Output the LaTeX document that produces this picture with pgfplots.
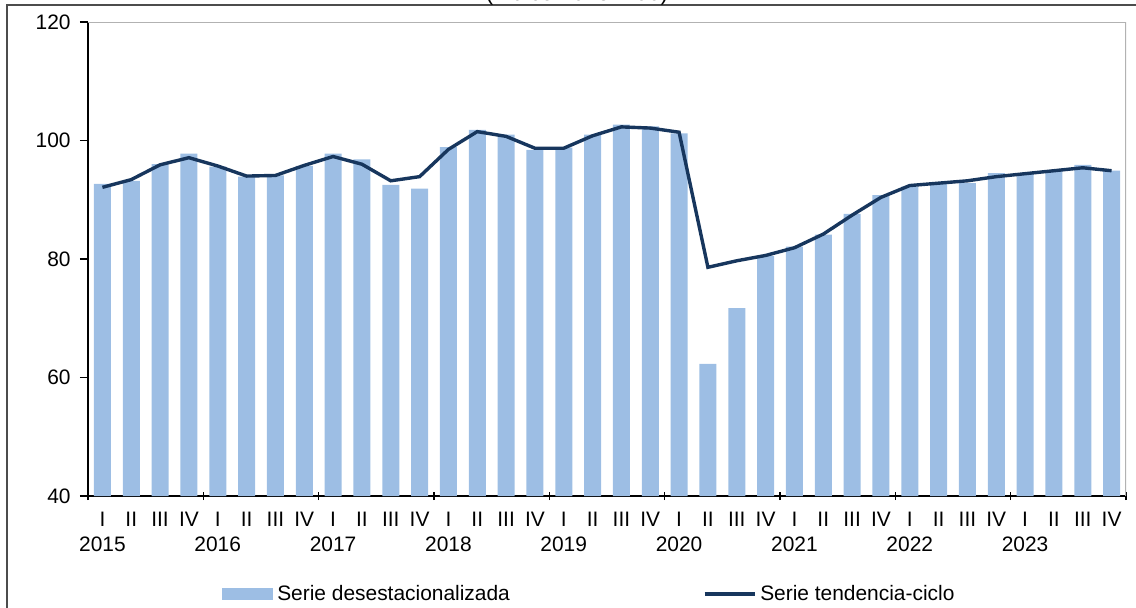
\documentclass[border=0pt]{standalone}
\usepackage{pgfplots}
\pgfplotsset{compat=1.18}
\usepackage{fontspec}
\setmainfont{Liberation Sans}

\definecolor{barblue}{RGB}{157,190,228}
\definecolor{navy}{RGB}{23,54,93}

\begin{document}
\fontsize{10.5}{12}\selectfont
\begin{tikzpicture}
  % outer frame of the chart (its right and bottom sides fall outside the page)
  \draw[black!70, line width=0.6pt] (-40.5bp,-58bp) rectangle (530bp,245.5bp);
  \node[anchor=base, inner sep=0pt, font=\fontsize{11.3}{13}\selectfont]
    at (244.5bp,247.5bp) {(Índice 2018=100)};
  \begin{axis}[
    at={(0,0)}, anchor=south west,
    scale only axis,
    width=519bp, height=237bp,
    xmin=-0.5, xmax=35.5,
    ymin=40, ymax=120,
    axis x line=bottom, axis y line=left,
    axis line style={-, black, line width=0.6pt},
    ytick={40,60,...,120},
    ytick style={black, line width=0.6pt},
    y tick label style={font=\fontsize{10.5}{12}\selectfont, xshift=-1pt},
    /pgf/number format/assume math mode=true,
    tick align=outside,
    major tick length=4bp,
    xtick={-0.5,3.5,...,35.5},
    xticklabels={},
    xtick style={black, line width=0.6pt},
    x tick style={/pgfplots/tick align=center},
    extra x ticks={0,...,35},
    extra x tick style={major tick length=0pt},
    extra x tick labels={{I\\2015},II,III,IV,{I\\2016},II,III,IV,{I\\2017},II,III,IV,
      {I\\2018},II,III,IV,{I\\2019},II,III,IV,{I\\2020},II,III,IV,{I\\2021},II,III,IV,
      {I\\2022},II,III,IV,{I\\2023},II,III,IV},
    x tick label style={align=center, font=\fontsize{10.5}{12.5}\selectfont, yshift=-4.5bp},
    legend style={draw=none, fill=none, at={(0.129,-0.207)}, anchor=west,
      legend columns=2, inner sep=0pt,
      font=\fontsize{10.5}{12}\selectfont,
      /tikz/every even column/.append style={column sep=94.5bp}},
    legend cell align=left,
  ]
    \addplot[ybar, bar width=8.5bp, fill=barblue, draw=none,
      legend image code/.code={\fill[barblue] (0bp,-3bp) rectangle (25.5bp,3bp);}]
      coordinates {
      (0,92.7) (1,93.2) (2,96.0) (3,97.8)
      (4,95.6) (5,93.9) (6,94.1) (7,95.7)
      (8,97.8) (9,96.8) (10,92.5) (11,91.9)
      (12,98.9) (13,101.8) (14,101.0) (15,98.4)
      (16,98.8) (17,101.0) (18,102.7) (19,102.4)
      (20,101.2) (21,62.3) (22,71.7) (23,80.5)
      (24,82.1) (25,84.1) (26,87.6) (27,90.8)
      (28,92.2) (29,92.9) (30,92.8) (31,94.5)
      (32,94.4) (33,94.9) (34,95.9) (35,94.9)
    };
    \addlegendentry{Serie desestacionalizada}
    \addplot[navy, line width=1.7bp, mark=none,
      legend image code/.code={\draw[navy, line width=1.7bp] (0bp,0bp) -- (25bp,0bp);}]
      coordinates {
      (0,92.1) (1,93.4) (2,95.9) (3,97.1)
      (4,95.7) (5,94.0) (6,94.1) (7,95.8)
      (8,97.3) (9,96.0) (10,93.2) (11,93.9)
      (12,98.5) (13,101.5) (14,100.7) (15,98.7)
      (16,98.7) (17,100.8) (18,102.3) (19,102.1)
      (20,101.4) (21,78.6) (22,79.7) (23,80.6)
      (24,81.9) (25,84.2) (26,87.4) (27,90.4)
      (28,92.4) (29,92.8) (30,93.2) (31,93.9)
      (32,94.4) (33,94.9) (34,95.4) (35,94.9)
    };
    \addlegendentry{Serie tendencia-ciclo}
    \draw[black!30, line width=0.6pt] (rel axis cs:0,1) -- (rel axis cs:1,1) -- (rel axis cs:1,0);
  \end{axis}
  \pgfresetboundingbox
  \useasboundingbox (-44bp,-56bp) rectangle (524bp,248bp);
\end{tikzpicture}
\end{document}
